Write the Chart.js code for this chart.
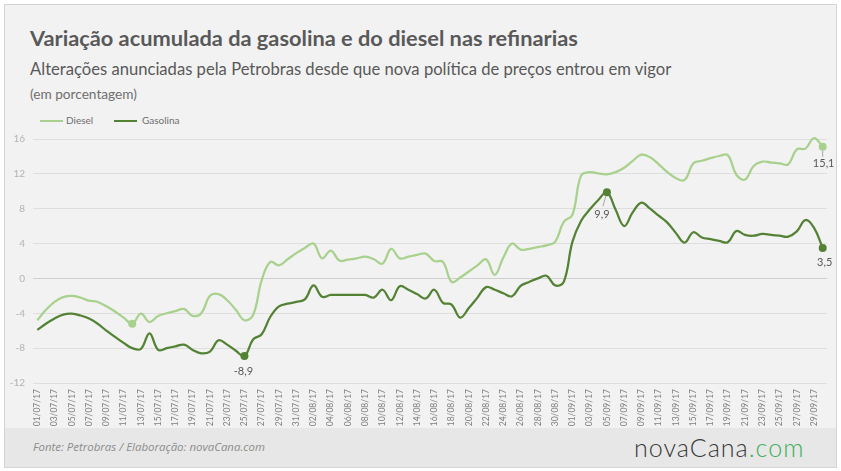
<!DOCTYPE html>
<html>
<head>
<meta charset="utf-8">
<script src="https://cdn.jsdelivr.net/npm/chart.js@4.4.0/dist/chart.umd.min.js"></script>
<style>
    html, body { margin: 0; padding: 0; background: #fff; }
    #frame { position: absolute; left: 4px; top: 4px; width: 831px; height: 462px; background: #f2f2f2; border: 1px solid #d4d4d4; }
    #foot { position: absolute; left: 5px; top: 428px; width: 831px; height: 39px; background: #e7e7e7; }
    .t { position: absolute; white-space: nowrap; line-height: 1; font-family: Lato, 'Open Sans', sans-serif; transform: translateY(-50%); }
    #title { left: 30px; top: 38px; font-size: 21px; font-weight: bold; color: #595959; }
    #subtitle { left: 30px; top: 69px; font-size: 17px; color: #595959; }
    #unit { left: 30px; top: 95px; font-size: 11px; color: #6f6f6f; }
    .leg { position: absolute; top: 120px; height: 2px; width: 23px; }
    .legtxt { top: 120px; font-size: 10px; color: #6f6f6f; }
    #source { left: 33px; top: 447px; font-size: 11px; font-style: italic; color: #8c8c8c; font-family: 'Open Sans', sans-serif; }
    #logo { left: 634px; top: 448px; font-size: 24px; font-weight: 300; color: #3a3a3a; letter-spacing: 1px; }
    #logo span { color: #3fae5a; }
    canvas { position: absolute; left: 0; top: 0; }
</style>
</head>
<body>
<div id="frame"></div>
<div id="foot"></div>
<div class="t" id="title">Variação acumulada da gasolina e do diesel nas refinarias</div>
<div class="t" id="subtitle">Alterações anunciadas pela Petrobras desde que nova política de preços entrou em vigor</div>
<div class="t" id="unit">(em porcentagem)</div>
<div class="leg" style="left:40px;background:#a9d18e"></div>
<div class="t legtxt" style="left:66px">Diesel</div>
<div class="leg" style="left:114px;background:#548235"></div>
<div class="t legtxt" style="left:142px">Gasolina</div>
<div class="t" id="source">Fonte: Petrobras / Elaboração: novaCana.com</div>
<div class="t" id="logo">novaCana<span>.com</span></div>
<canvas id="chart" width="841" height="471"></canvas>

<script>
// Daily categories, 01/07/17 .. 30/09/17
const months = [['07', 31], ['08', 31], ['09', 30]];
const days = [];
months.forEach(([m, n]) => {
    for (let d = 1; d <= n; d++) days.push(String(d).padStart(2, '0') + '/' + m + '/17');
});

// Accumulated variation (%)
const diesel = [
    -4.8, -3.6, -2.7, -2.15, -2.0, -2.2, -2.55, -2.7, -3.2, -3.8,
    -4.5, -5.2, -4.05, -5.0, -4.3, -4.0, -3.75, -3.5, -4.3, -4.0,
    -2.0, -1.8, -2.5, -3.6, -4.8, -4.2, -0.2, 1.9, 1.5, 2.2,
    2.9, 3.5, 4.0, 2.3, 3.2, 2.05, 2.15, 2.3, 2.5, 2.2,
    1.7, 3.4, 2.3, 2.5, 2.7, 2.85, 2.0, 1.9, -0.4, 0.1,
    0.8, 1.5, 2.2, 0.4, 2.4, 4.0, 3.3, 3.4, 3.6, 3.8,
    4.2, 6.5, 7.3, 11.8, 12.2, 12.05, 11.95, 12.2, 12.7, 13.5,
    14.2, 13.9, 13.1, 12.2, 11.5, 11.3, 13.2, 13.5, 13.8, 14.05,
    14.15, 11.9, 11.35, 12.9, 13.4, 13.3, 13.2, 13.1, 14.8, 14.9,
    16.1, 15.1
];
const gasolina = [
    -5.9, -5.2, -4.6, -4.15, -4.05, -4.25, -4.6, -5.2, -6.0, -6.7,
    -7.4, -8.0, -8.1, -6.3, -8.2, -8.0, -7.8, -7.6, -8.2, -8.6,
    -8.4, -7.1, -7.6, -8.3, -8.9, -7.0, -6.4, -4.4, -3.2, -2.9,
    -2.7, -2.4, -0.8, -2.1, -1.9, -1.9, -1.9, -1.9, -1.9, -2.2,
    -1.3, -2.5, -0.9, -1.3, -1.8, -2.3, -1.3, -2.8, -3.0, -4.5,
    -3.4, -2.2, -1.0, -1.3, -1.7, -2.05, -0.85, -0.4, 0.0, 0.3,
    -0.8, -0.4, 4.2, 6.6, 7.9, 9.0, 9.9, 7.9, 6.0, 7.6,
    8.7, 8.0, 7.2, 6.4, 5.2, 4.1, 5.3, 4.7, 4.5, 4.3,
    4.15, 5.45, 5.0, 4.9, 5.1, 5.0, 4.9, 4.8, 5.4, 6.7,
    5.8, 3.5
];
const yTicks = [-12, -8, -4, 0, 4, 8, 12, 16];

// Marked points and which of them carry a value label
const dieselMarks = [11, 91];
const dieselLabelled = [91];
const gasolinaMarks = [24, 66, 91];
const gasolinaLabelled = [24, 66, 91];

// Label placement relative to the point (pixels)
const labelPos = {
    'Diesel:91': { dx: 1, dy: 17, lead: [0, 4, 0, 10] },
    'Gasolina:24': { dx: -1, dy: 15 },
    'Gasolina:66': { dx: -5, dy: 22, lead: [-1, 4, -4, 14] },
    'Gasolina:91': { dx: 2, dy: 15 }
};

function fitWidth(id, w) {
    const el = document.getElementById(id);
    const cur = el.getBoundingClientRect().width;
    const fs = parseFloat(getComputedStyle(el).fontSize);
    el.style.fontSize = (fs * w / cur).toFixed(2) + 'px';
}
fitWidth('title', 548);
fitWidth('subtitle', 642);
fitWidth('unit', 107);
fitWidth('source', 232);
fitWidth('logo', 171);

const valueLabels = {
    id: 'valueLabels',
    afterDatasetsDraw(chart) {
        const ctx = chart.ctx;
        ctx.save();
        ctx.font = '11px Lato, sans-serif';
        ctx.fillStyle = '#595959';
        ctx.textAlign = 'center';
        ctx.textBaseline = 'middle';
        chart.data.datasets.forEach((ds, d) => {
            const meta = chart.getDatasetMeta(d);
            ds.labelled.forEach(i => {
                const p = meta.data[i];
                const pos = labelPos[ds.label + ':' + i];
                if (pos.lead) {
                    ctx.strokeStyle = '#a6a6a6';
                    ctx.lineWidth = 1;
                    ctx.beginPath();
                    ctx.moveTo(p.x + pos.lead[0], p.y + pos.lead[1]);
                    ctx.lineTo(p.x + pos.lead[2], p.y + pos.lead[3]);
                    ctx.stroke();
                }
                const txt = ds.data[i].toFixed(1).replace('.', ',');
                ctx.fillText(txt, p.x + pos.dx, p.y + pos.dy);
            });
        });
        ctx.restore();
    }
};

new Chart(document.getElementById('chart'), {
    type: 'line',
    data: {
        labels: days,
        datasets: [
            {
                label: 'Diesel',
                data: diesel,
                borderColor: '#a9d18e',
                backgroundColor: '#a9d18e',
                pointRadius: ctx => dieselMarks.includes(ctx.dataIndex) ? 4 : 0,
                labelled: dieselLabelled,
                clip: false
            },
            {
                label: 'Gasolina',
                data: gasolina,
                borderColor: '#548235',
                backgroundColor: '#548235',
                pointRadius: ctx => gasolinaMarks.includes(ctx.dataIndex) ? 4 : 0,
                labelled: gasolinaLabelled,
                clip: false
            }
        ]
    },
    options: {
        responsive: false,
        animation: false,
        layout: { padding: { left: 0, top: 139, right: 14, bottom: 43 } },
        elements: {
            line: { tension: 0.4, borderWidth: 2.25 },
            point: { borderWidth: 0, hoverRadius: 4 }
        },
        plugins: {
            legend: { display: false },
            tooltip: { enabled: false }
        },
        scales: {
            x: {
                offset: true,
                grid: { display: false, drawTicks: false },
                border: { display: false },
                ticks: {
                    autoSkip: false,
                    minRotation: 90,
                    maxRotation: 90,
                    padding: 6,
                    color: '#808080',
                    font: { family: 'Lato', size: 8.5 },
                    callback: function(v, i) {
                        return i % 2 === 0 ? this.getLabelForValue(v) : '';
                    }
                },
                afterFit: s => { s.height = 45; }
            },
            y: {
                min: yTicks[0],
                max: yTicks[yTicks.length - 1],
                afterBuildTicks: s => { s.ticks = yTicks.map(v => ({ value: v })); },
                grid: {
                    drawTicks: false,
                    color: ctx => ctx.tick && ctx.tick.value === 0 ? '#cfcfcf' : '#dedede'
                },
                border: { display: false },
                ticks: {
                    padding: 8,
                    color: '#b3b3b3',
                    font: { family: 'Lato', size: 10 }
                },
                afterFit: s => { s.width = 33; }
            }
        }
    },
    plugins: [valueLabels]
});
</script>
</body>
</html>
